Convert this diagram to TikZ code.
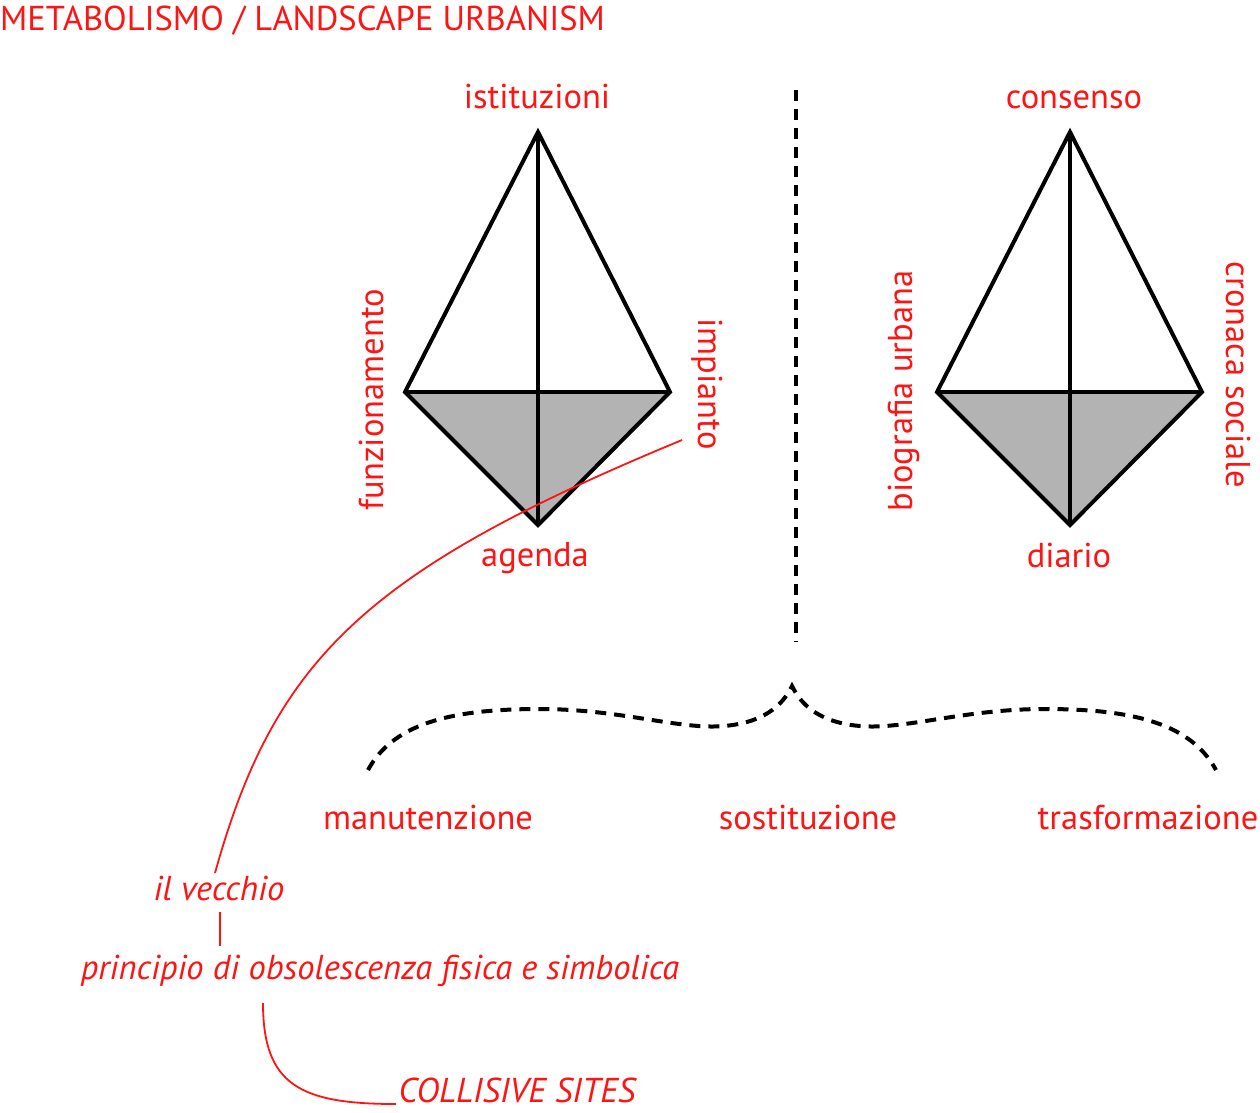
\documentclass[tikz,border=0pt]{standalone}
\usepackage{fontspec}
\setmainfont{PT Sans}
\definecolor{redlbl}{RGB}{255,20,20}
\definecolor{kitegray}{RGB}{179,179,179}

\begin{document}
\begin{tikzpicture}[x=1pt, y=-1pt,
    lbl/.style={text=redlbl, font=\fontsize{34.5}{40}\selectfont, inner sep=0pt},
    note/.style={lbl, font=\fontsize{34.5}{40}\selectfont\itshape},
    edge/.style={line width=4pt, line join=miter},
    dashline/.style={line width=4pt, dash pattern=on 11pt off 8pt},
    link/.style={draw=redlbl, line width=1.8pt}]
    \useasboundingbox (0,0) rectangle (1260,1112);

    % left kite
    \coordinate (lt) at (538,132);
    \coordinate (ll) at (405,392);
    \coordinate (lr) at (670,392);
    \coordinate (lb) at (538,525);
    \fill[kitegray] (ll) -- (lr) -- (lb) -- cycle;
    \draw[edge] (lt) -- (ll) -- (lb) -- (lr) -- cycle;
    \draw[edge] (lt) -- (lb);
    \draw[edge] (ll) -- (lr);

    % right kite
    \coordinate (rt) at (1070,132);
    \coordinate (rl) at (937,392);
    \coordinate (rr) at (1202,392);
    \coordinate (rb) at (1070,525);
    \fill[kitegray] (rl) -- (rr) -- (rb) -- cycle;
    \draw[edge] (rt) -- (rl) -- (rb) -- (rr) -- cycle;
    \draw[edge] (rt) -- (rb);
    \draw[edge] (rl) -- (rr);

    \node[lbl, anchor=base west] (title) at (0,30) {METABOLISMO / LANDSCAPE URBANISM};

    \node[lbl, anchor=base] (ist) at (537,108) {istituzioni};
    \node[lbl, anchor=base] (age) at (535,566) {agenda};
    \node[lbl, rotate=90] (fun) at (371,400) {funzionamento};
    \node[lbl, rotate=-90] (imp) at (707,384) {impianto};

    \node[lbl, anchor=base] (con) at (1074,108) {consenso};
    \node[lbl, anchor=base] (dia) at (1069,567) {diario};
    \node[lbl, rotate=90] (bio) at (904,391) {biografia urbana};
    \node[lbl, rotate=-90] (cro) at (1238,375) {cronaca sociale};

    % separator and brace
    \coordinate (sepa) at (796,90);
    \coordinate (sepb) at (796,642);
    \draw[dashline] (sepa) -- (sepb);

    \coordinate (bl) at (368,770);
    \coordinate (tip) at (792,686);
    \coordinate (br) at (1216,770);
    \draw[dashline] (bl) .. controls (395,720) and (460,709) .. (540,709)
        .. controls (620,709) and (680,730) .. (724,726)
        .. controls (770,722) and (785,700) .. (tip)
        .. controls (799,700) and (814,722) .. (860,726)
        .. controls (904,730) and (964,709) .. (1044,709)
        .. controls (1124,709) and (1189,720) .. (br);

    \node[lbl, anchor=base] (man) at (428,829) {manutenzione};
    \node[lbl, anchor=base] (sos) at (808,829) {sostituzione};
    \node[lbl, anchor=base] (tra) at (1148,829) {trasformazione};

    % notes
    \node[note, anchor=base] (vec) at (219,900) {il vecchio};
    \node[note, anchor=base] (pri) at (380,979) {principio di obsolescenza fisica e simbolica};
    \node[note, anchor=base] (col) at (517,1102) {COLLISIVE SITES};

    \coordinate (ia) at (682,440);
    \coordinate (va) at (215,873);
    \draw[link] (ia) .. controls (368,570) and (275,657) .. (va);
    \coordinate (vb) at (220,912);
    \coordinate (pa) at (220,946);
    \draw[link] (vb) -- (pa);
    \coordinate (pb) at (263,1003);
    \coordinate (ca) at (396,1104);
    \draw[link] (pb) .. controls (263,1085) and (300,1104) .. (ca);
\end{tikzpicture}
\end{document}
